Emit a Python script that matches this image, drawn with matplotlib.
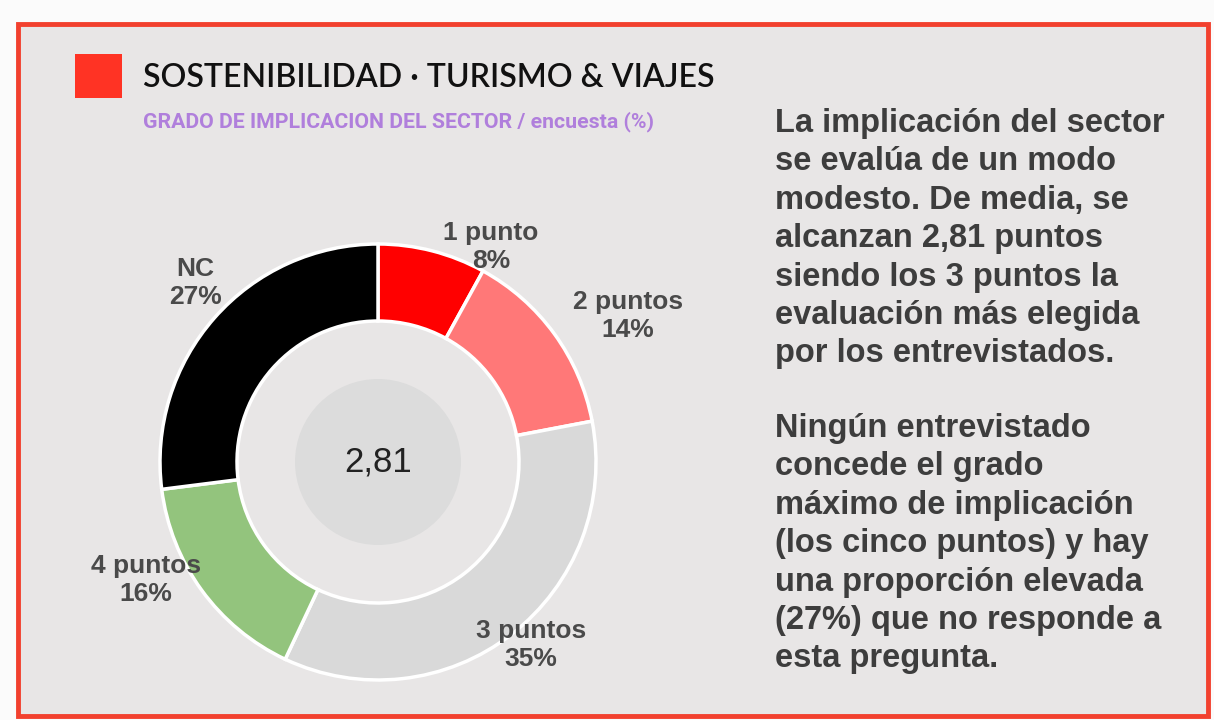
import matplotlib.pyplot as plt
from matplotlib.patches import Rectangle, Circle

# data
categories = ["1 punto", "2 puntos", "3 puntos", "4 puntos", "NC"]
shares = [8, 14, 35, 16, 27]
colors = ["#ff0000", "#ff7878", "#d9d9d9", "#93c47d", "#000000"]
mean_score = "2,81"

title = "SOSTENIBILIDAD · TURISMO & VIAJES"
subtitle = "GRADO DE IMPLICACION DEL SECTOR / encuesta (%)"
para1 = [
    "La implicación del sector",
    "se evalúa de un modo",
    "modesto. De media, se",
    "alcanzan 2,81 puntos",
    "siendo los 3 puntos la",
    "evaluación más elegida",
    "por los entrevistados.",
]
para2 = [
    "Ningún entrevistado",
    "concede el grado",
    "máximo de implicación",
    "(los cinco puntos) y hay",
    "una proporción elevada",
    "(27%) que no responde a",
    "esta pregunta.",
]

W, H = 1214, 720
fig = plt.figure(figsize=(W / 100, H / 100), dpi=100, facecolor="#fbfbfb")
ax = fig.add_axes([0, 0, 1, 1])
ax.set_xlim(0, W)
ax.set_ylim(0, H)
ax.axis("off")


def Y(y):
    # image pixel row -> data y
    return H - y


# panel with red frame
ax.add_patch(Rectangle((18, Y(716)), 1190, 692, facecolor="#e8e6e6",
                       edgecolor="#f2402e", linewidth=3.5, zorder=0))

# title block
ax.add_patch(Rectangle((75, Y(98)), 47, 44, facecolor="#ff3324", edgecolor="none"))
ax.text(143, Y(87), title, fontsize=23, family="Lato", fontweight="semibold",
        color="#111111", va="baseline", ha="left")
ax.text(143, Y(127), subtitle, fontsize=15.3, fontweight="bold",
        family="Roboto", color="#b07fdc", va="baseline", ha="left")

# donut
cx, cy, R = 378, Y(462), 218
wedges, _ = ax.pie(shares, colors=colors, startangle=90, counterclock=False,
                   radius=R, center=(cx, cy),
                   wedgeprops=dict(width=77, edgecolor="white", linewidth=2.5))
ax.set_xlim(0, W)
ax.set_ylim(0, H)
ax.set_aspect("auto")
ax.add_patch(Circle((cx, cy), 83, facecolor="#dcdcdc", edgecolor="none"))
ax.text(cx, cy, mean_score, fontsize=25, family="Liberation Sans",
        color="#222222", ha="center", va="center")

# slice labels
label_pos = [(491, 247), (628, 316), (531, 645), (146, 580), (195, 283)]
for name, val, (lx, ly) in zip(categories, shares, label_pos):
    ax.text(lx, Y(ly), f"{name}\n{val}%", fontsize=19, fontweight="bold",
            family="Liberation Sans", color="#4a4a4a", ha="center",
            va="center", linespacing=1.2)

# commentary
for i, line in enumerate(para1):
    ax.text(775, Y(132 + i * 38.4), line, fontsize=23.5, fontweight="bold",
            family="Liberation Sans", color="#3d3d3d", va="baseline")
for i, line in enumerate(para2):
    ax.text(775, Y(437 + i * 38.4), line, fontsize=23.5, fontweight="bold",
            family="Liberation Sans", color="#3d3d3d", va="baseline")

fig.savefig("out.png", dpi=100, facecolor=fig.get_facecolor())
